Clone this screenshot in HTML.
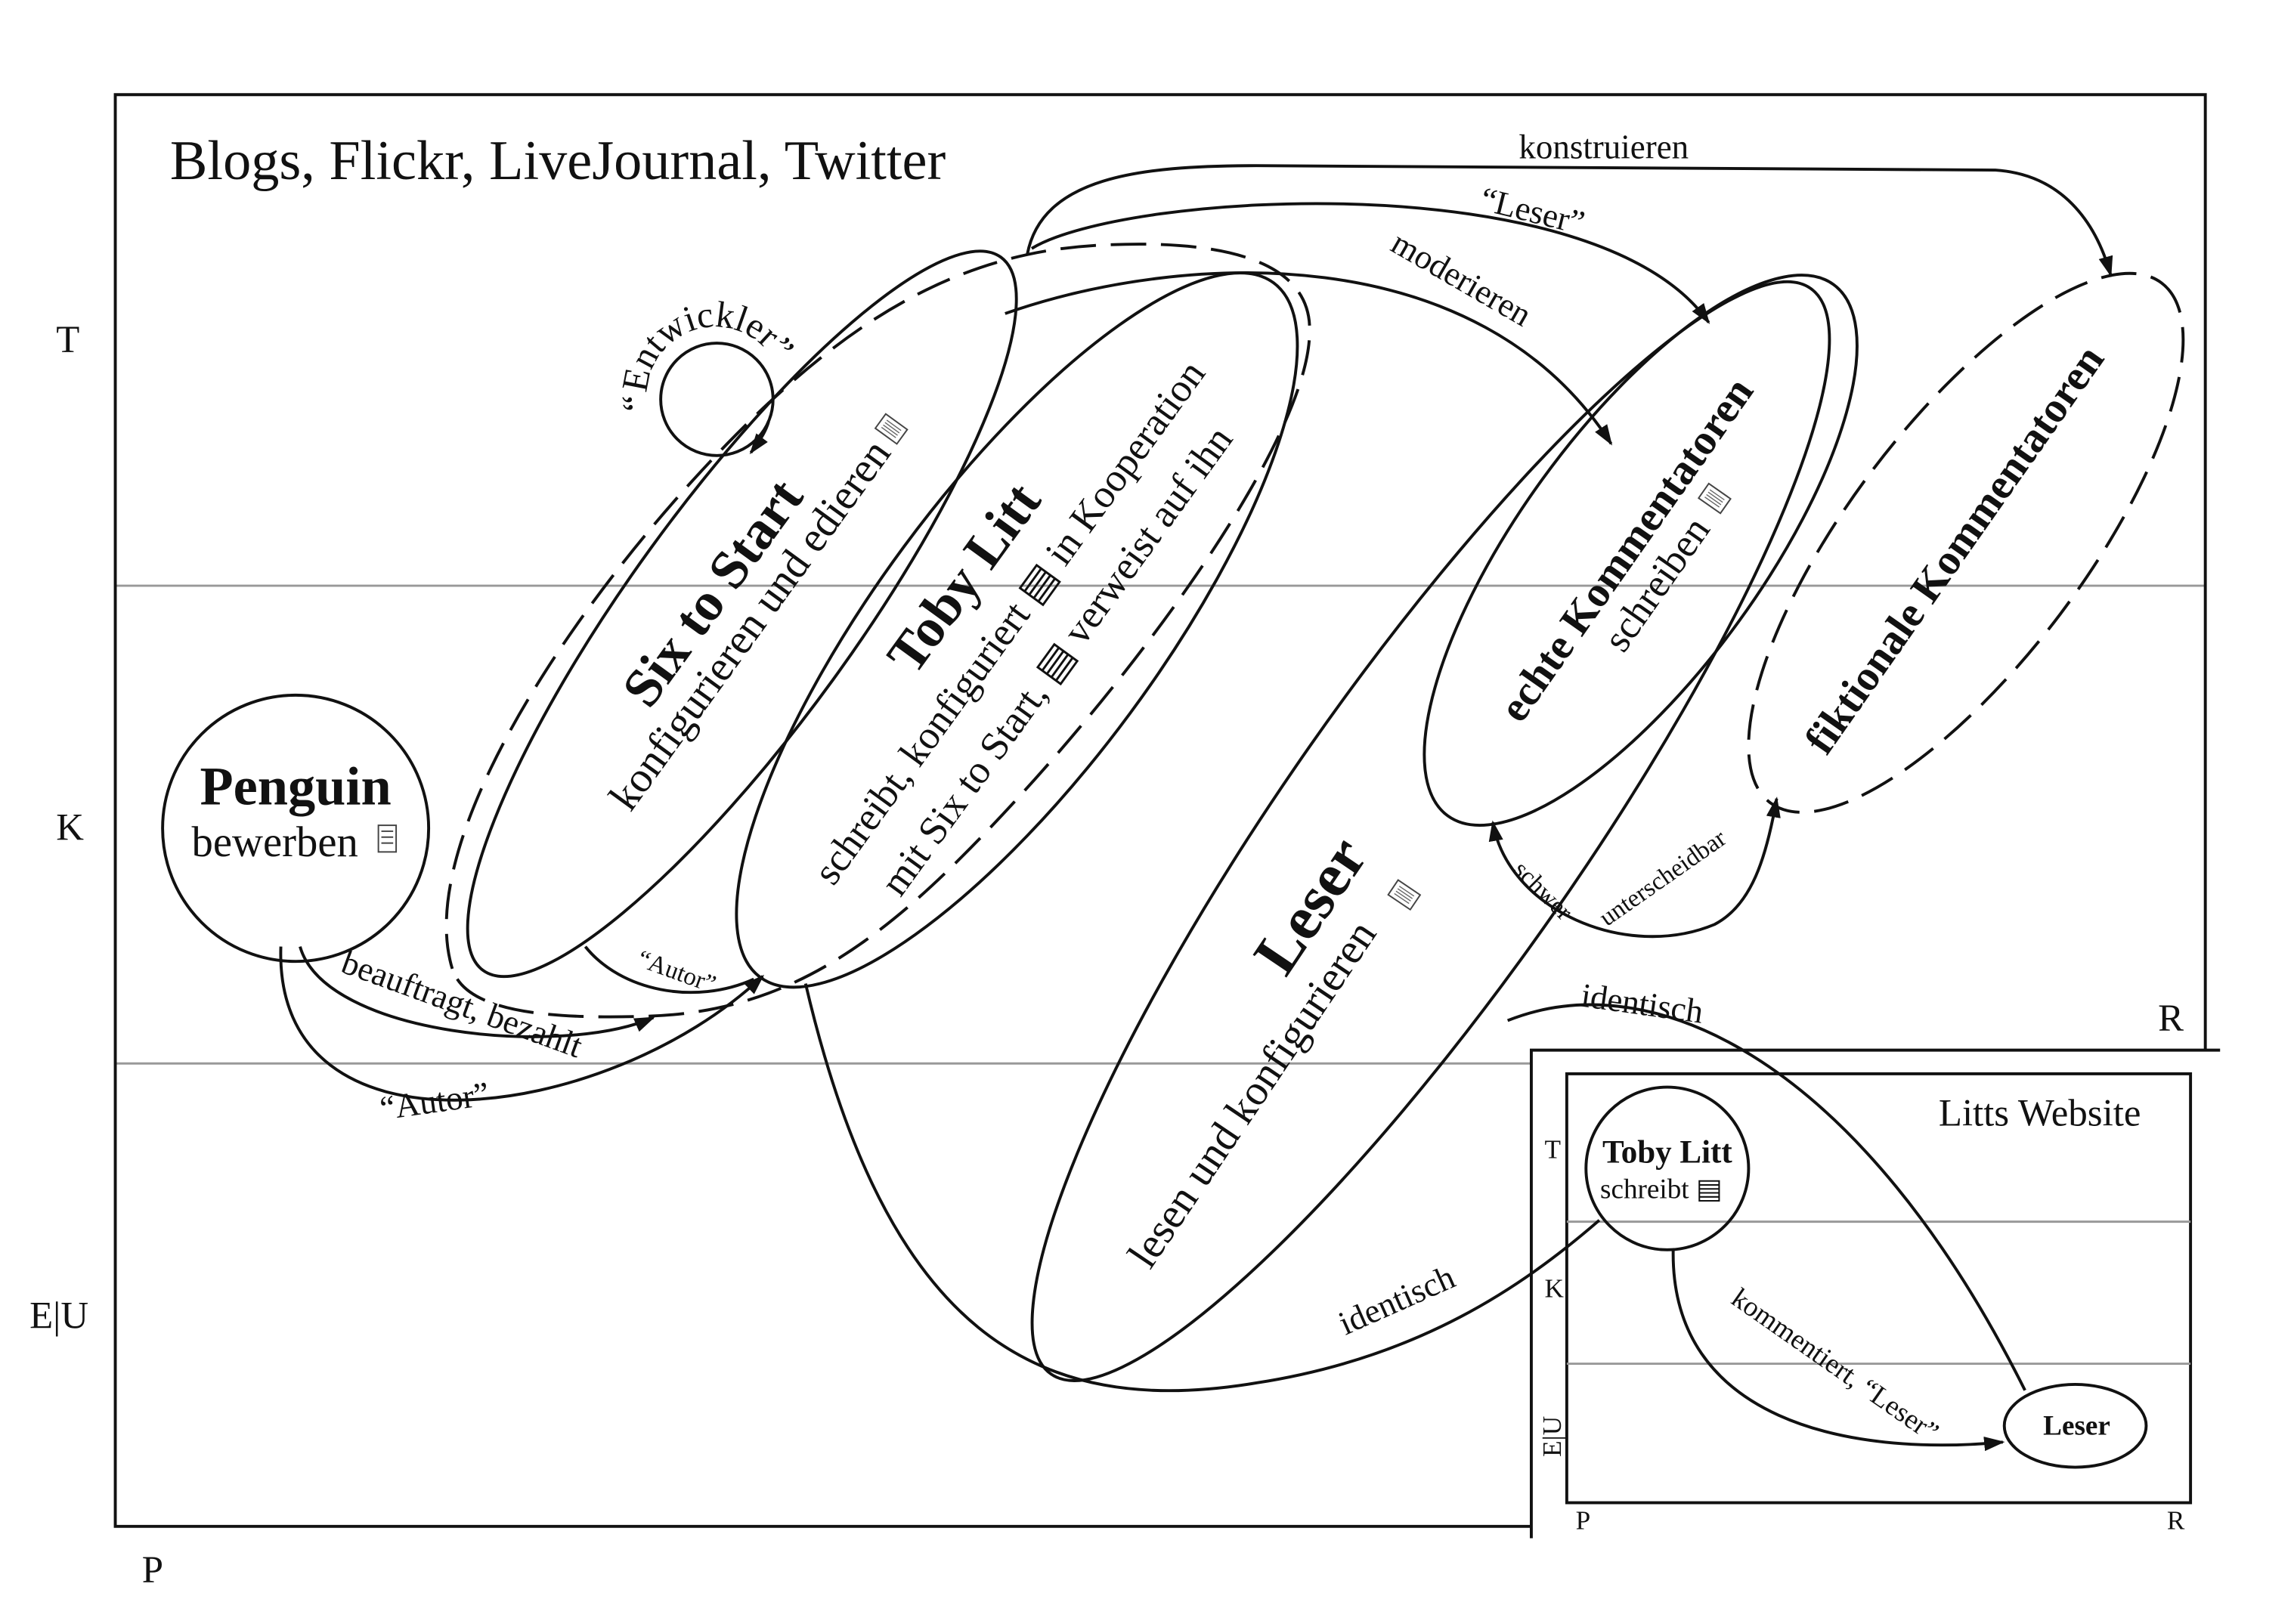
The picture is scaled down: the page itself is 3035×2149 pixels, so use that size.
<!DOCTYPE html>
<html><head><meta charset="utf-8"><style>
html,body{margin:0;padding:0;background:#fff;}
svg{display:block;}
text{font-family:"Liberation Serif",serif;fill:#111;}
</style></head><body>
<svg width="3035" height="2149" viewBox="0 0 1552 1098" preserveAspectRatio="none" xmlns="http://www.w3.org/2000/svg">
<defs>
<marker id="a2" viewBox="0 0 10 10" refX="9" refY="5" markerWidth="14" markerHeight="14" orient="auto-start-reverse" markerUnits="userSpaceOnUse"><path d="M0,1.5 L10,5 L0,8.5 z" fill="#111"/></marker>
<path id="ent" d="M440.6,283 A46,46 0 0 1 527,251"/>
<g id="doc"><rect x="-6" y="-9" width="12" height="18" fill="#fff" stroke="#444" stroke-width="1"/><path d="M-3,-6v12M-1,-6v12M1,-6v12M3,-6v12" stroke="#666" stroke-width="0.7"/></g>
</defs>
<g fill="none" stroke="#111" stroke-width="2">
<line x1="78" y1="396" x2="1492" y2="396" stroke="#999" stroke-width="1.5"/>
<line x1="78" y1="719" x2="1036" y2="719" stroke="#999" stroke-width="1.5"/>
<path d="M1036,1032 L78,1032 L78,64 L1492,64 L1492,710"/>
<path d="M1036,1040 L1036,710 L1502,710"/>
<rect x="1060" y="726" width="422" height="290"/>
<line x1="1060" y1="826" x2="1482" y2="826" stroke="#999" stroke-width="1.5"/>
<line x1="1060" y1="922" x2="1482" y2="922" stroke="#999" stroke-width="1.5"/>
<circle cx="200" cy="560" r="90"/>
<path d="M306,655 C280,570 385,410 492,300 C565,225 640,172 740,166 C825,161 888,175 886,225 C885,300 760,470 650,580 C580,650 520,684 440,687 C355,690 314,680 306,655 Z" stroke-dasharray="24 10"/>
<ellipse cx="502" cy="415" rx="298" ry="76" transform="rotate(-54 502 415)"/>
<ellipse cx="688" cy="426" rx="292" ry="95" transform="rotate(-53.5 688 426)"/>
<circle cx="485" cy="270" r="38"/>
<ellipse cx="968" cy="562" rx="448" ry="100" transform="rotate(-55 968 562)"/>
<ellipse cx="1110" cy="372" rx="222" ry="82" transform="rotate(-54 1110 372)"/>
<ellipse cx="1330" cy="367" rx="220" ry="80" transform="rotate(-53 1330 367)" stroke-dasharray="24 10"/>
<circle cx="1128" cy="790" r="55"/>
<ellipse cx="1404" cy="964" rx="48" ry="28"/>
<path d="M695,172 C705,120 770,112 850,112 L1350,115 C1395,118 1418,150 1428,186" marker-end="url(#a2)"/>
<path d="M698,168 C760,130 1080,110 1156,218" marker-end="url(#a2)"/>
<path d="M680,212 C800,170 1000,160 1090,300" marker-end="url(#a2)"/>
<path d="M520,285 C518,292 514,298 508,306" marker-end="url(#a2)"/>
<path d="M203,640 C220,700 380,715 442,688" marker-end="url(#a2)"/>
<path d="M190,640 C185,790 410,760 516,660" marker-end="url(#a2)"/>
<path d="M396,640 C420,670 470,680 510,662"/>
<path d="M545,665 C600,900 700,960 850,935 C960,918 1030,870 1082,825"/>
<path d="M1020,690 C1120,650 1260,720 1370,940"/>
<path d="M1010,556 C1020,615 1100,650 1160,625 C1185,612 1195,580 1202,540" marker-start="url(#a2)" marker-end="url(#a2)"/>
<path d="M1132,845 C1130,960 1250,985 1355,975" marker-end="url(#a2)"/>
</g>
<text x="115" y="121" font-size="38">Blogs, Flickr, LiveJournal, Twitter</text>
<text x="38" y="238" font-size="26">T</text>
<text x="38" y="568" font-size="26">K</text>
<text x="20" y="898" font-size="26">E|U</text>
<text x="96" y="1070" font-size="26">P</text>
<text x="1460" y="697" font-size="26">R</text>
<text x="200" y="544" font-size="37" font-weight="bold" text-anchor="middle">Penguin</text>
<text x="186" y="579" font-size="29" text-anchor="middle">bewerben</text>
<g fill="none" stroke="#444" stroke-width="1"><rect x="256" y="558" width="12" height="18"/><path d="M258,562h8M258,566h8M258,570h8"/></g>
<text font-size="25" text-anchor="middle"><textPath href="#ent" startOffset="50%">“Entwickler”</textPath></text>
<text font-size="37" font-weight="bold" text-anchor="middle" transform="translate(492,408) rotate(-54)">Six to Start</text>
<text font-size="29" text-anchor="middle" transform="translate(515,428) rotate(-54)">konfigurieren und edieren</text>
<use href="#doc" transform="translate(603,290) rotate(-54)"/>
<text font-size="37" font-weight="bold" text-anchor="middle" transform="translate(662,398) rotate(-54)">Toby Litt</text>
<text font-size="27" text-anchor="middle" transform="translate(690,426) rotate(-54)">schreibt, konfiguriert ▤ in Kooperation</text>
<text font-size="27" text-anchor="middle" transform="translate(722,452) rotate(-54)">mit Six to Start, ▤ verweist auf ihn</text>
<text font-size="42" font-weight="bold" text-anchor="middle" transform="translate(898,620) rotate(-56)">Leser</text>
<use href="#doc" transform="translate(950,605) rotate(-56)"/>
<text font-size="29" text-anchor="middle" transform="translate(855,745) rotate(-56)">lesen und konfigurieren</text>
<text font-size="29" font-weight="bold" text-anchor="middle" transform="translate(1108,377) rotate(-55)">echte Kommentatoren</text>
<text font-size="27" text-anchor="middle" transform="translate(1128,400) rotate(-55)">schreiben</text>
<use href="#doc" transform="translate(1160,337) rotate(-55)"/>
<text font-size="29" font-weight="bold" text-anchor="middle" transform="translate(1330,377) rotate(-55)">fiktionale Kommentatoren</text>
<text x="1085" y="107" font-size="23" text-anchor="middle">konstruieren</text>
<text font-size="23" text-anchor="middle" transform="translate(1035,150) rotate(14)">“Leser”</text>
<text font-size="23" text-anchor="middle" transform="translate(985,195) rotate(30)">moderieren</text>
<text font-size="23" text-anchor="middle" transform="translate(310,686) rotate(20)">beauftragt, bezahlt</text>
<text font-size="23" text-anchor="middle" transform="translate(295,752) rotate(-8)">“Autor”</text>
<text font-size="17" text-anchor="middle" transform="translate(456,662) rotate(20)">“Autor”</text>
<text font-size="23" text-anchor="middle" transform="translate(948,886) rotate(-24)">identisch</text>
<text font-size="23" text-anchor="middle" transform="translate(1110,686) rotate(8)">identisch</text>
<text font-size="17" text-anchor="middle" transform="translate(1040,606) rotate(45)">schwer</text>
<text font-size="17" text-anchor="middle" transform="translate(1128,598) rotate(-35)">unterscheidbar</text>
<text x="1380" y="761" font-size="26" text-anchor="middle">Litts Website</text>
<text x="1045" y="783" font-size="18">T</text>
<text x="1045" y="877" font-size="18">K</text>
<text font-size="18" transform="translate(1056,985) rotate(-90)">E|U</text>
<text x="1066" y="1034" font-size="18">P</text>
<text x="1466" y="1034" font-size="18">R</text>
<text x="1128" y="786" font-size="22" font-weight="bold" text-anchor="middle">Toby Litt</text>
<text x="1124" y="810" font-size="19" text-anchor="middle">schreibt ▤</text>
<text x="1405" y="970" font-size="19" font-weight="bold" text-anchor="middle">Leser</text>
<text font-size="19" text-anchor="middle" transform="translate(1238,928) rotate(35)">kommentiert, “Leser”</text>
</svg>
</body></html>
